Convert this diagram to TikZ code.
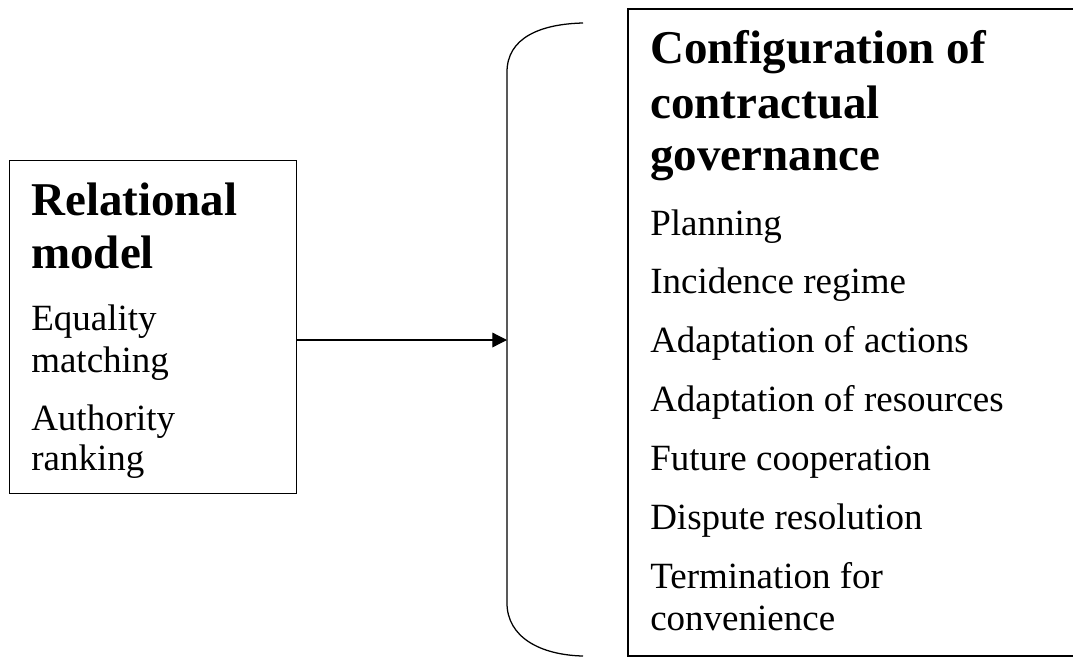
\documentclass[tikz,border=0pt]{standalone}
\usepackage{fontspec}
\setmainfont{Liberation Serif}
\usetikzlibrary{arrows.meta}
\begin{document}
\begin{tikzpicture}[x=0.75pt,y=-0.75pt,
  frame/.style={draw=black,line width=0.95pt},
  title/.style={anchor=base west,inner sep=0pt,font=\fontsize{35.25}{40}\selectfont\bfseries},
  item/.style={anchor=base west,inner sep=0pt,font=\fontsize{27.75}{32}\selectfont},
  conn/.style={draw=black,line width=0.95pt,-{Triangle[length=11pt,width=11pt]}}]
\useasboundingbox (0,0) rectangle (1073,657);
% left box
\node[frame,rectangle,minimum width=287*0.75pt,minimum height=333*0.75pt,inner sep=0pt,anchor=north west] (L) at (9,160) {};
\node[title] (l1) at (31,215) {Relational};
\node[title] (l2) at (31,268) {model};
\node[item] (l3) at (31,330) {Equality};
\node[item] (l4) at (31,372) {matching};
\node[item] (l5) at (31,430) {Authority};
\node[item] (l6) at (31,470) {ranking};
% right box (open at the right edge)
\draw[frame] (1073,9) -- (628,9) -- (628,656) -- (1073,656);
\node[title] (r1) at (650,63) {Configuration of};
\node[title] (r2) at (650,118) {contractual};
\node[title] (r3) at (650,170) {governance};
\node[item] (r4) at (650,235) {Planning};
\node[item] (r5) at (650,293) {Incidence regime};
\node[item] (r6) at (650,352) {Adaptation of actions};
\node[item] (r7) at (650,411) {Adaptation of resources};
\node[item] (r8) at (650,470) {Future cooperation};
\node[item] (r9) at (650,529) {Dispute resolution};
\node[item] (r10) at (650,588) {Termination for};
\node[item] (r11) at (650,630) {convenience};
% brace
\coordinate (btop) at (583,23);
\coordinate (bbot) at (583,656);
\coordinate (bin) at (507,340);
\draw[frame] (btop) .. controls (540,24) and (507,38) .. (507,72) -- (507,603)
  .. controls (507,637) and (540,655) .. (bbot);
% arrow
\draw[conn] (L.east |- bin) -- (bin);
\end{tikzpicture}
\end{document}
